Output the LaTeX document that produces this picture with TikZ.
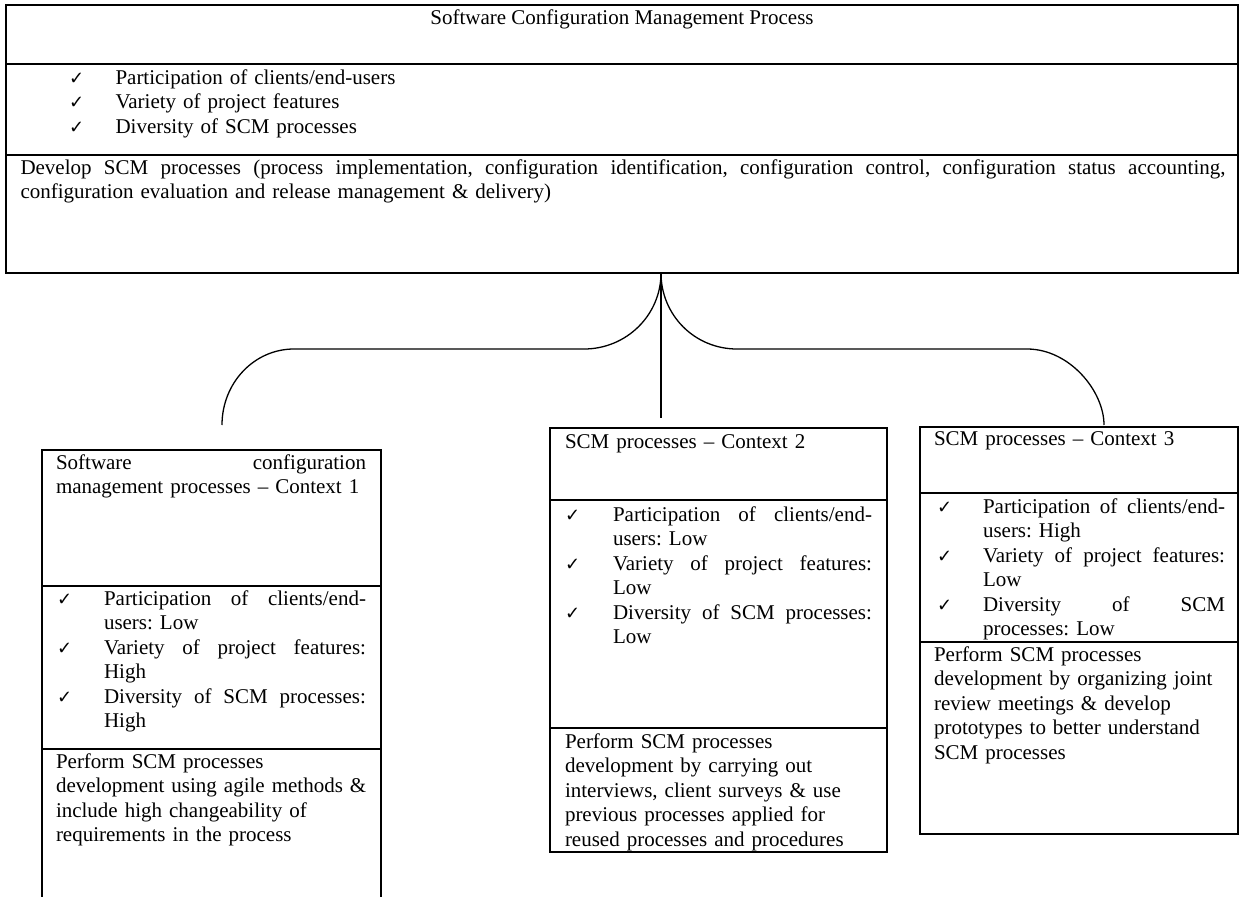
\documentclass[tikz,border=0pt]{standalone}
\usepackage{fontspec}
\setmainfont{Liberation Serif}
\newfontfamily\ckfont{DejaVu Sans}
\newcommand\tf{\fontsize{21pt}{24.5pt}\selectfont\frenchspacing}
\newcommand\jl[2]{\leavevmode\hbox to #1pt{\frenchspacing\spaceskip=0.25em plus 1fil\relax #2}}
\begin{document}
\begin{tikzpicture}[x=1pt,y=-1pt,
  box/.style={draw, line width=1.8pt, inner sep=0pt, outer sep=0pt, anchor=north west},
  txt/.style={anchor=north west, yshift=17.15pt, inner sep=0pt, outer sep=0pt,
    text width=#1pt, align=left, font=\tf, execute at begin node={\parindent=0pt\strut}},
  txt/.default=400,
  ck/.style={anchor=base west, inner sep=0pt, outer sep=0pt, font=\ckfont\fontsize{18pt}{18pt}\selectfont},
  brace/.style={draw, line width=1.3pt}]
\useasboundingbox (0,0) rectangle (1240,897);
\clip (0,0) rectangle (1240,897);
\fill[white] (0,0) rectangle (1240,897);

% ---- top box
\node[box, minimum width=1232pt, minimum height=59pt] (t1) at (6,5) {};
\node[box, minimum width=1232pt, minimum height=91pt] (t2) at (6,64) {};
\node[box, minimum width=1232pt, minimum height=118pt] (t3) at (6,155) {};
\node[anchor=base, inner sep=0pt, font=\tf] (title) at (622,24) {Software Configuration Management Process};
\node[ck] (tck1) at (69,84) {✓};
\node[ck] (tck2) at (69,108.5) {✓};
\node[ck] (tck3) at (69,133) {✓};
\node[txt=600] (titems) at (115.5,84) {Participation of clients/end-users\\Variety of project features\\Diversity of SCM processes};
\node[txt=1215] (tdev) at (20.5,174) {\jl{1205}{Develop SCM processes (process implementation, configuration identification, configuration control, configuration status accounting,}\\configuration evaluation and release management \& delivery)};

% ---- context 1
\node[box, minimum width=339pt, minimum height=136pt] (a1) at (42,450) {};
\node[box, minimum width=339pt, minimum height=163pt] (a2) at (42,586) {};
\node[box, minimum width=339pt, minimum height=170pt] (a3) at (42,749) {};
\node[txt] (atitle) at (56,469) {\jl{310}{Software configuration}\\management processes – Context 1};
\node[ck] (ack1) at (57,605) {✓};
\node[ck] (ack2) at (57,654) {✓};
\node[ck] (ack3) at (57,703) {✓};
\node[txt] (aitems) at (104,605) {\jl{262}{Participation of clients/end-}\\users: Low\\\jl{262}{Variety of project features:}\\High\\\jl{262}{Diversity of SCM processes:}\\High};
\node[txt] (aperf) at (56,768) {Perform SCM processes\\development using agile methods \&\\include high changeability of\\requirements in the process};

% ---- context 2
\node[box, minimum width=337pt, minimum height=72pt] (b1) at (550,428) {};
\node[box, minimum width=337pt, minimum height=228pt] (b2) at (550,500) {};
\node[box, minimum width=337pt, minimum height=124pt] (b3) at (550,728) {};
\node[txt] (btitle) at (565,448) {SCM processes – Context 2};
\node[ck] (bck1) at (565,521) {✓};
\node[ck] (bck2) at (565,570) {✓};
\node[ck] (bck3) at (565,619) {✓};
\node[txt] (bitems) at (613,521) {\jl{259}{Participation of clients/end-}\\users: Low\\\jl{259}{Variety of project features:}\\Low\\\jl{259}{Diversity of SCM processes:}\\Low};
\node[txt] (bperf) at (565,748) {Perform SCM processes\\development by carrying out\\interviews, client surveys \& use\\previous processes applied for\\reused processes and procedures};

% ---- context 3
\node[box, minimum width=318pt, minimum height=66pt] (c1) at (920,427) {};
\node[box, minimum width=318pt, minimum height=149pt] (c2) at (920,493) {};
\node[box, minimum width=318pt, minimum height=192pt] (c3) at (920,642) {};
\node[txt] (ctitle) at (934,445) {SCM processes – Context 3};
\node[ck] (cck1) at (937,513) {✓};
\node[ck] (cck2) at (937,562) {✓};
\node[ck] (cck3) at (937,611) {✓};
\node[txt] (citems) at (983,513) {\jl{242}{Participation of clients/end-}\\users: High\\\jl{242}{Variety of project features:}\\Low\\\jl{242}{Diversity of SCM}\\processes: Low};
\node[txt] (cperf) at (934,661) {Perform SCM processes\\development by organizing joint\\review meetings \& develop\\prototypes to better understand\\SCM processes};

% ---- brace
\coordinate (tip) at (661,273);
\coordinate (e1) at (222,425);
\coordinate (e2) at (661,418);
\coordinate (e3) at (1104,425);
\draw[brace] (tip) .. controls (661,315) and (626.5,349) .. (584,349) -- (294,349)
  .. controls (254,349) and (222,383) .. (e1);
\draw[brace] (tip) .. controls (661,315) and (694.5,349) .. (737,349) -- (1027,349)
  .. controls (1069.5,349) and (1104,391) .. (e3);
\draw[brace] (tip) -- (e2);
\end{tikzpicture}
\end{document}
